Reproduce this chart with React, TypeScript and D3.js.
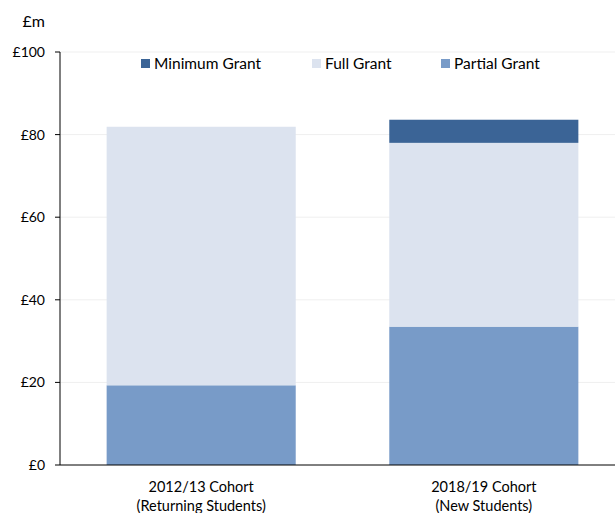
import React from "react";
import * as d3 from "d3";

const categories = ["2012/13 Cohort|(Returning Students)", "2018/19 Cohort|(New Students)"];
const seriesNames = ["Partial Grant", "Full Grant", "Minimum Grant"];
const partialGrant = [19.3, 33.5];
const fullGrant = [62.6, 44.5];
const minimumGrant = [0, 5.6];
const yTicks = [0, 20, 40, 60, 80, 100];
const legendOrder = ["Minimum Grant", "Full Grant", "Partial Grant"];
const colors: Record<string, string> = {
  "Minimum Grant": "#3B6496",
  "Full Grant": "#DCE3EF",
  "Partial Grant": "#789BC8",
};

const W = 615, H = 513;
const left = 60, bottom = 465, top = 52;
const font = "Lato, 'Open Sans', sans-serif";

export default function App() {
  const rows = categories.map((c, i) => ({
    cat: c,
    "Partial Grant": partialGrant[i],
    "Full Grant": fullGrant[i],
    "Minimum Grant": minimumGrant[i],
  }));
  const stack = d3.stack<any>().keys(seriesNames)(rows);
  const x = d3.scaleBand().domain(categories).range([left, 625]).paddingInner(0.331).paddingOuter(0.165);
  const y = d3.scaleLinear().domain([0, 100]).range([bottom, top]);
  const legendX = [141, 312, 441];

  return (
    <svg width={W} height={H} style={{ position: "absolute", left: 0, top: 0 }} fontFamily={font}>
      <rect width={W} height={H} fill="#fff" />
      {yTicks.filter(t => t > 0).map(t => (
        <line key={t} x1={left} x2={W} y1={y(t)} y2={y(t)} stroke="#EFEFEF" strokeWidth={1} />
      ))}
      {stack.map(s => (
        <g key={s.key} fill={colors[s.key]}>
          {s.map((d, i) => d[1] - d[0] > 0 ? (
            <rect key={i} x={x(categories[i])!} width={x.bandwidth()} y={y(d[1])} height={y(d[0]) - y(d[1])} />
          ) : null)}
        </g>
      ))}
      <line x1={left} x2={left} y1={top} y2={bottom} stroke="#000" />
      <line x1={left} x2={W} y1={bottom} y2={bottom} stroke="#000" />
      {yTicks.map(t => (
        <g key={t}>
          <line x1={left - 5} x2={left} y1={y(t)} y2={y(t)} stroke="#000" />
          <text x={45} y={y(t)} dy="0.35em" textAnchor="end" fontSize={14} fill="#000">£{t}</text>
        </g>
      ))}
      <text x={45} y={27} textAnchor="end" fontSize={16} fill="#000">£m</text>
      {legendOrder.map((k, i) => (
        <g key={k}>
          <rect x={legendX[i]} y={59} width={9} height={9} fill={colors[k]} />
          <text x={legendX[i] + 13} y={63.5} dy="0.35em" fontSize={15.5} fill="#000">{k}</text>
        </g>
      ))}
      {categories.map(c => {
        const [a, b] = c.split("|");
        const cx = x(c)! + x.bandwidth() / 2;
        return (
          <text key={c} x={cx} textAnchor="middle" fontSize={14.5} fill="#000">
            <tspan x={cx} y={492}>{a}</tspan>
            <tspan x={cx} y={511}>{b}</tspan>
          </text>
        );
      })}
    </svg>
  );
}
